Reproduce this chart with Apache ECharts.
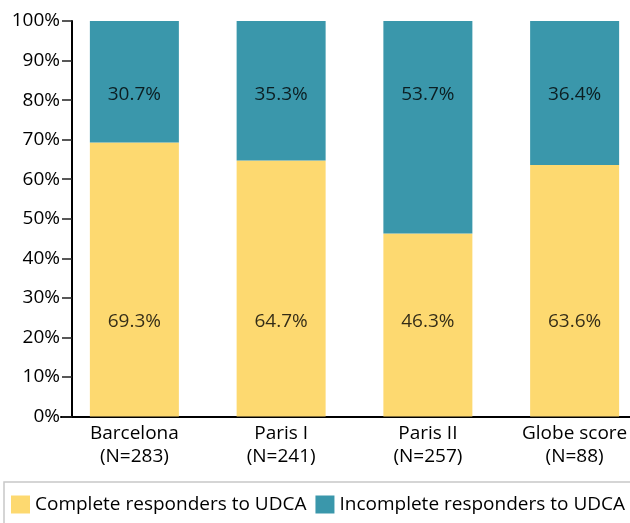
<!DOCTYPE html>
<html>
<head>
<meta charset="utf-8">
<script src="https://cdn.jsdelivr.net/npm/echarts@6/dist/echarts.min.js"></script>
<style>
  html, body { margin: 0; padding: 0; background: #fff; }
  #chart { width: 630px; height: 523px; }
</style>
</head>
<body>
<div id="chart"></div>
<script>
// data
const categories = ['Barcelona\n(N=283)', 'Paris I\n(N=241)', 'Paris II\n(N=257)', 'Globe score\n(N=88)']
const complete = [69.3, 64.7, 46.3, 63.6]
const incomplete = [30.7, 35.3, 53.7, 36.4]
const yTicks = [0, 10, 20, 30, 40, 50, 60, 70, 80, 90, 100]

const FONT = 'Open Sans'
const FONT_SIZE = 19
const colors = ['#fdd970', '#3a97ab']

const chart = echarts.init(document.getElementById('chart'))

// labels sit at fixed heights inside the bars, not at segment centres
const labelRowTop = 81.5
const labelRowBottom = 24

const option = {
  animation: false,
  color: colors,
  textStyle: { fontFamily: FONT },
  grid: {
    left: 61,
    width: 587,
    top: 21,
    bottom: 106.5,
    outerBoundsMode: 'none'
  },
  legend: {
    data: ['Complete responders to UDCA', 'Incomplete responders to UDCA'],
    left: 4,
    top: 482,
    width: 660,
    icon: 'rect',
    itemWidth: 19,
    itemHeight: 18,
    itemGap: 9,
    padding: [13, 20, 20, 7],
    borderColor: '#c8c8c8',
    borderWidth: 1.5,
    textStyle: { fontFamily: FONT, fontSize: FONT_SIZE, color: '#000' }
  },
  xAxis: {
    type: 'category',
    data: categories,
    axisLine: { lineStyle: { color: '#000', width: 2 } },
    axisTick: { show: false },
    axisLabel: {
      fontFamily: FONT,
      fontSize: FONT_SIZE,
      color: '#000',
      lineHeight: 23,
      margin: 6
    }
  },
  yAxis: {
    type: 'value',
    min: yTicks[0],
    max: yTicks[yTicks.length - 1],
    interval: 10,
    offset: -11,
    splitLine: { show: false },
    axisLine: { show: true, lineStyle: { color: '#000', width: 2 } },
    axisTick: { show: true, length: 10, lineStyle: { color: '#222', width: 1.5 } },
    axisLabel: {
      fontFamily: FONT,
      fontSize: FONT_SIZE,
      color: '#000',
      margin: 12,
      formatter: (v) => v + '%'
    }
  },
  series: [
    {
      name: 'Complete responders to UDCA',
      type: 'bar',
      stack: 'total',
      barWidth: 89,
      data: complete,
      label: { show: false }
    },
    {
      name: 'Incomplete responders to UDCA',
      type: 'bar',
      stack: 'total',
      barWidth: 89,
      data: incomplete,
      label: { show: false }
    },
    {
      type: 'scatter',
      symbolSize: 0,
      silent: true,
      data: incomplete.map(() => labelRowTop),
      label: {
        show: true,
        position: 'inside',
        fontFamily: FONT,
        fontSize: FONT_SIZE,
        color: '#000',
        formatter: (p) => incomplete[p.dataIndex].toFixed(1) + '%'
      }
    },
    {
      type: 'scatter',
      symbolSize: 0,
      silent: true,
      data: complete.map(() => labelRowBottom),
      label: {
        show: true,
        position: 'inside',
        fontFamily: FONT,
        fontSize: FONT_SIZE,
        color: '#000',
        formatter: (p) => complete[p.dataIndex].toFixed(1) + '%'
      }
    }
  ]
}

option && chart.setOption(option)
</script>
</body>
</html>
